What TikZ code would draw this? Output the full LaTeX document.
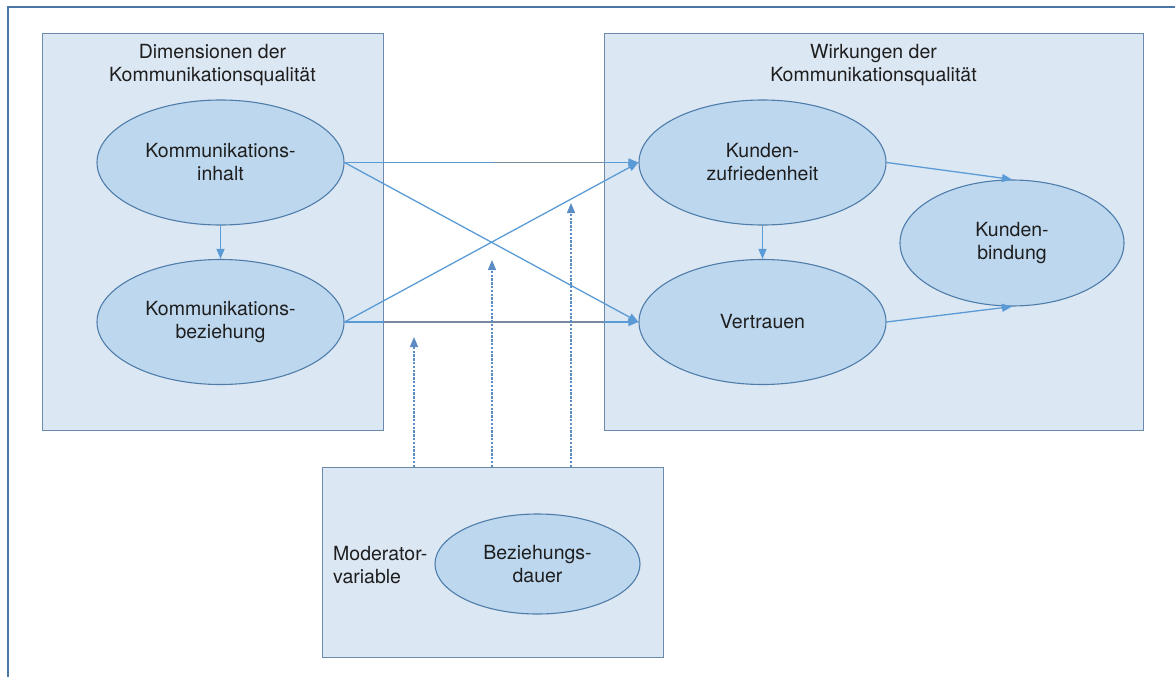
\documentclass[tikz,border=0pt]{standalone}
\usepackage{fontspec}
\setmainfont{TeX Gyre Heros}
\usetikzlibrary{shapes.geometric,arrows.meta}
\definecolor{boxfill}{RGB}{220,231,244}
\definecolor{boxline}{RGB}{108,138,172}
\definecolor{ellfill}{RGB}{189,215,238}
\definecolor{ellline}{RGB}{79,125,170}
\definecolor{arrowblue}{RGB}{91,155,213}
\definecolor{frameblue}{RGB}{74,118,168}
\definecolor{linegray}{RGB}{120,138,158}
\definecolor{dashblue}{RGB}{92,140,196}
\definecolor{txt}{RGB}{30,30,30}
\begin{document}
\begin{tikzpicture}[x=1pt,y=-1pt,
  font=\fontsize{19.5}{23}\selectfont,
  panel/.style={rectangle, draw=boxline, fill=boxfill, line width=1.2pt, inner sep=0pt, anchor=north west},
  ell/.style={ellipse, draw=ellline, fill=ellfill, line width=1.1pt, inner sep=0pt,
    minimum width=247pt, minimum height=125pt, align=center, text=txt},
  title/.style={align=center, text=txt, inner sep=0pt},
  link/.style={draw=arrowblue, line width=1.3pt, -{Triangle[length=10pt,width=8pt]}},
  modlink/.style={draw=dashblue, line width=1.3pt, dash pattern=on 2.5pt off 1.3pt,
    -{Triangle[length=10pt,width=8pt]}},
  grayline/.style={draw=linegray, line width=1.2pt}]
\useasboundingbox (0,0) rectangle (1175,677);

% page frame (top and left edge)
\draw[frameblue, line width=1.5pt] (8,677) -- (8,7) -- (1175,7);

% panels
\node[panel, minimum width=341pt, minimum height=397pt] (dim) at (42,33) {};
\node[panel, minimum width=539pt, minimum height=397pt] (wirk) at (604,33) {};
\node[panel, minimum width=341pt, minimum height=190pt] (modbox) at (322,467) {};

\node[title] (dimtitle) at (212.5,65.5) {Dimensionen der\\Kommunikationsqualität};
\node[title] (wirktitle) at (873.5,65.5) {Wirkungen der\\Kommunikationsqualität};
\node[align=left, text=txt, inner sep=0pt, anchor=west] (modtitle) at (333,565) {Moderator-\\variable};

% constructs
\node[ell] (inhalt) at (220.5,162.5) {Kommunikations-\\inhalt};
\node[ell] (bez) at (220.5,322) {Kommunikations-\\beziehung};
\node[ell] (zuf) at (762.5,162.5) {Kunden-\\zufriedenheit};
\node[ell] (vert) at (762.5,322) {Vertrauen};
\node[ell, minimum width=224pt, minimum height=126pt] (bind) at (1012,243) {Kunden-\\bindung};
\node[ell, minimum width=205pt, minimum height=100pt] (dauer) at (537.5,564) {Beziehungs-\\dauer};

% effects
\draw[link] (inhalt.south) -- (bez.north);
\draw[link] (zuf.south) -- (vert.north);
\draw[link] (inhalt.east) -- (zuf.west);
\draw[link] (inhalt.east) -- (vert.west);
\draw[link] (bez.east) -- (zuf.west);
\draw[link] (bez.east) -- (vert.west);
\draw[link] (zuf.east) -- (bind.north);
\draw[link] (vert.east) -- (bind.south);

% moderating effects
\coordinate (m1) at (414,337);
\coordinate (m2) at (492,260);
\coordinate (m3) at (571,203);
\draw[grayline] (m2 |- inhalt.east) -- (wirk.west |- inhalt.east);
\draw[grayline] (dim.east |- bez.east) -- (wirk.west |- bez.east);
\draw[modlink] (modbox.north -| m1) -- (m1);
\draw[modlink] (modbox.north -| m2) -- (m2);
\draw[modlink] (modbox.north -| m3) -- (m3);
\end{tikzpicture}
\end{document}
